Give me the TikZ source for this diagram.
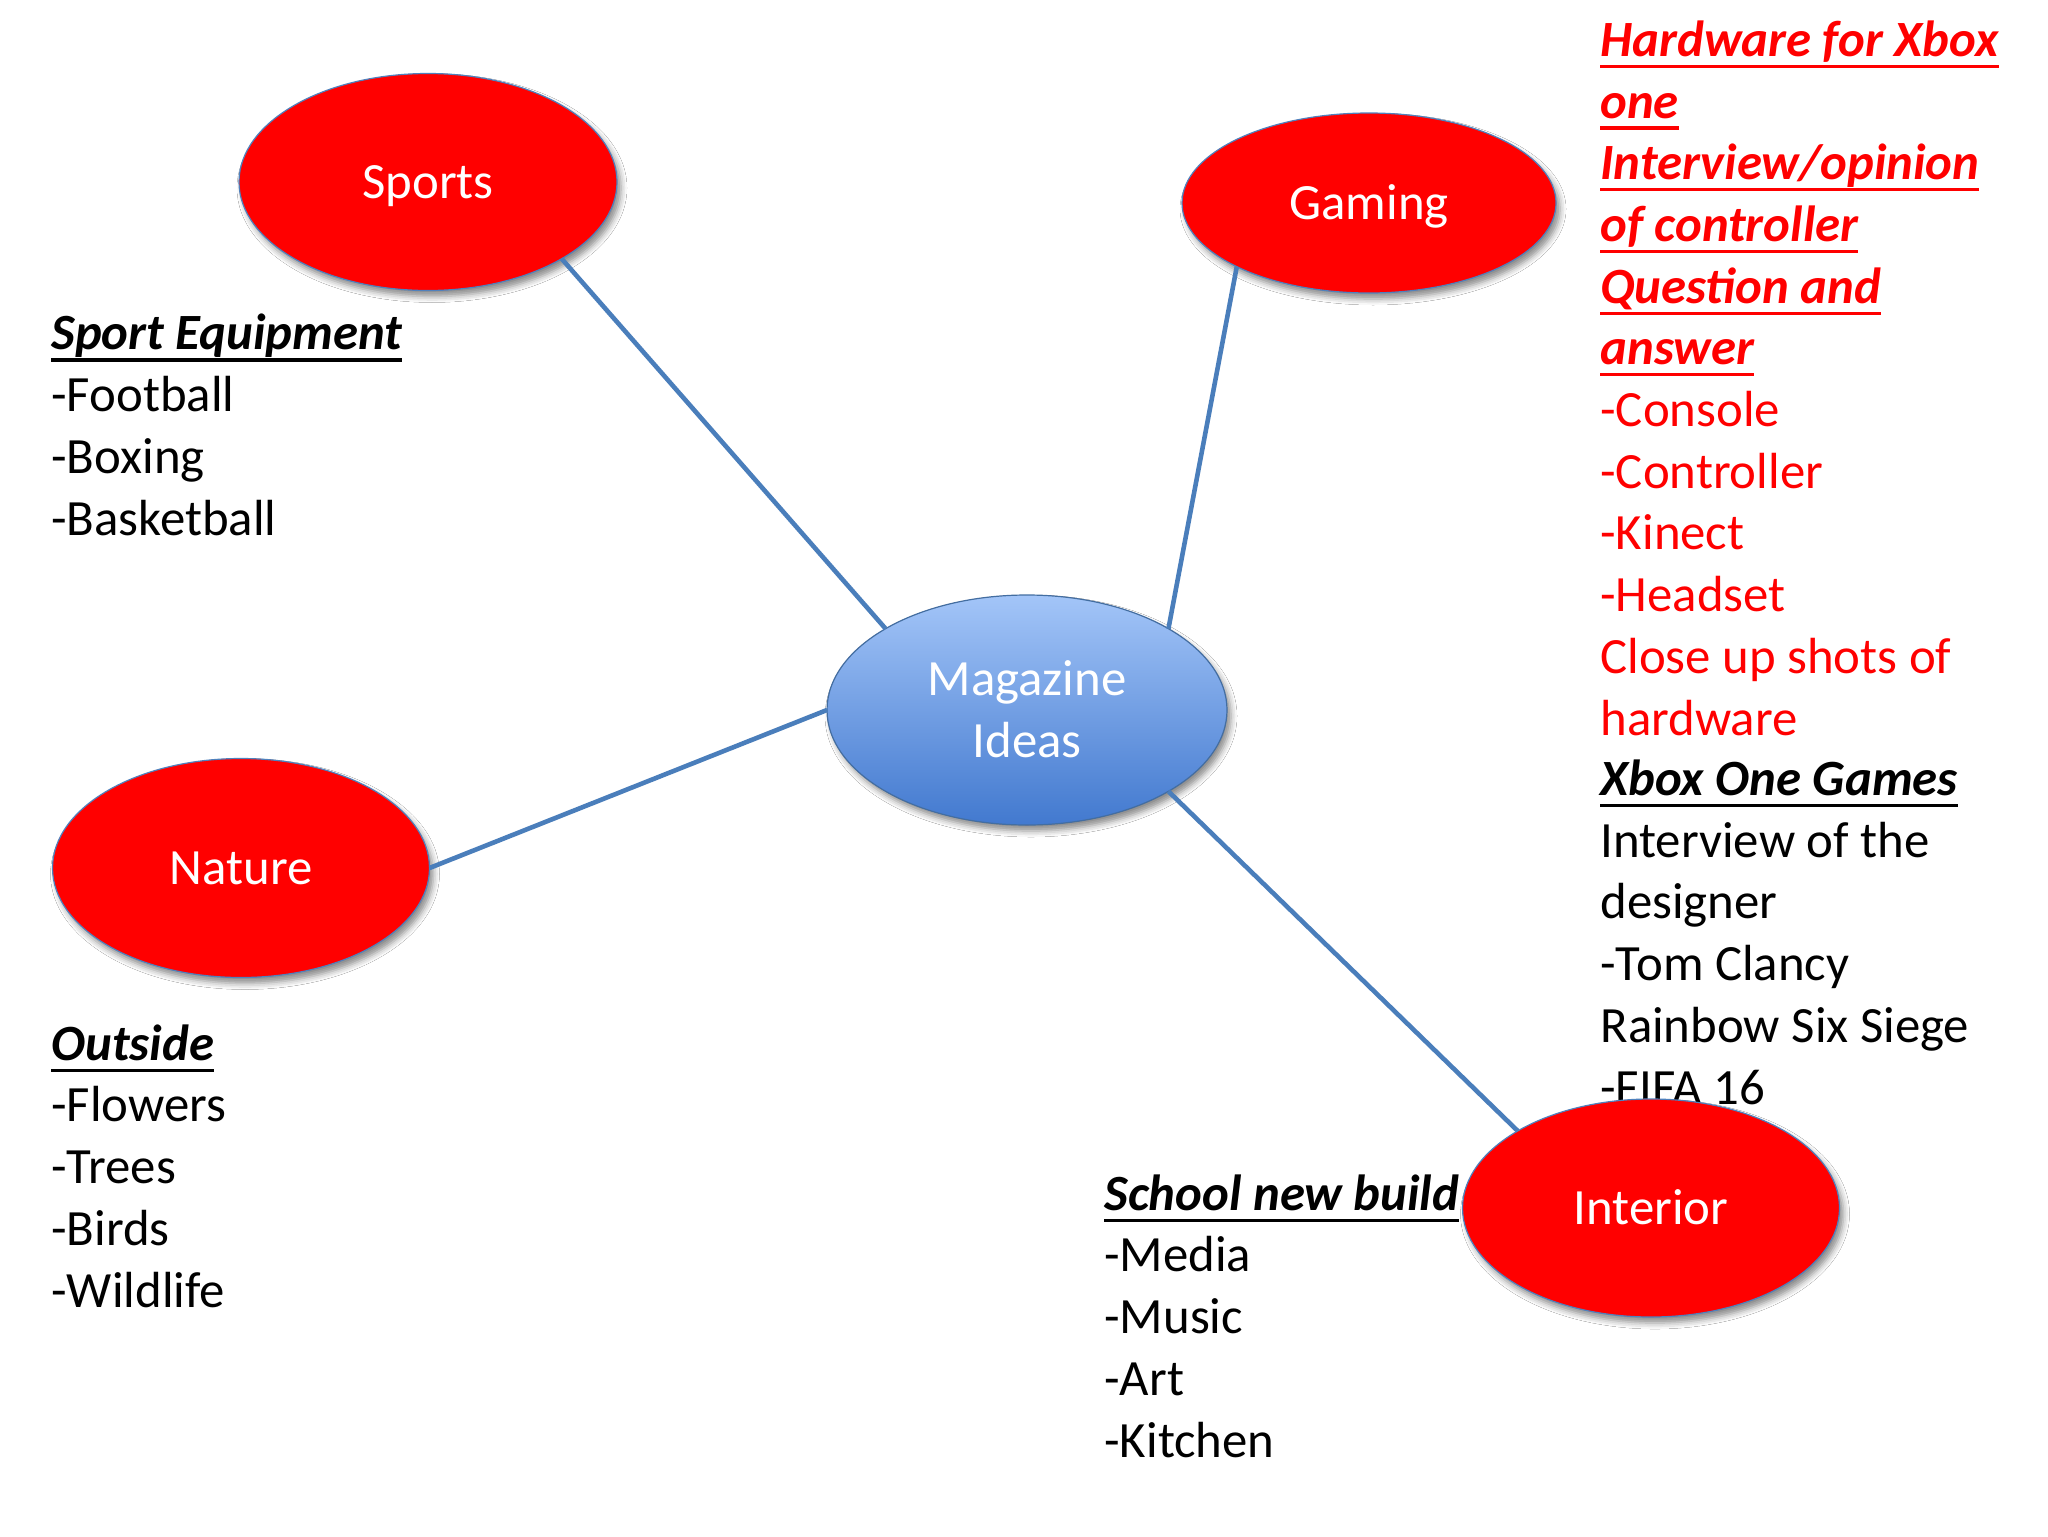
\documentclass[tikz,border=0pt]{standalone}
\usepackage{fontspec}
\setmainfont{Carlito}
\usetikzlibrary{shapes.geometric,shadows.blur}
\definecolor{linkblue}{HTML}{4A7EBB}
\definecolor{rimblue}{HTML}{4F81BD}
\definecolor{hubtop}{HTML}{A3C5F8}
\definecolor{hubbot}{HTML}{4279CF}
\definecolor{topicred}{HTML}{FF0000}
\newsavebox{\headbox}
\newcommand{\bigtext}{\fontsize{25.4}{30.85}\selectfont}
\newcommand{\head}[1]{\sbox{\headbox}{\bfseries\itshape #1}%
	\rlap{\rule[-5.8pt]{\wd\headbox}{1.6pt}}\usebox{\headbox}}
\tikzset{
	topic/.style={
			ellipse, draw=rimblue, line width=0.6pt, fill=topicred,
			text=white, inner sep=0pt, outer sep=0pt, font=\bigtext,
			text height=16pt, text depth=0pt,
			blur shadow={shadow xshift=2pt, shadow yshift=-3pt,
					shadow blur radius=3pt, shadow opacity=45}
		},
	hub/.style={topic, draw=rimblue!85!black, top color=hubtop, bottom color=hubbot,
			align=center, text height=47pt},
	link/.style={draw=linkblue, line width=2.3pt},
	% base anchor sits on the last line
	notes/.style={anchor=base west, align=left, inner sep=0pt, font=\bigtext}
}

\begin{document}
\begin{tikzpicture}[x=0.5pt, y=-0.5pt]
	\useasboundingbox[fill=white] (0,0) rectangle (2048,1536);

	% lists of ideas
	\node[notes] (sportlist) at (51,535) {\head{Sport Equipment}\\-Football\\-Boxing\\-Basketball};
	\node[notes] (outsidelist) at (51,1307) {\head{Outside}\\-Flowers\\-Trees\\-Birds\\-Wildlife};
	\node[notes] (schoollist) at (1104,1457) {\head{School new build}\\-Media\\-Music\\-Art\\-Kitchen};
	\node[notes, text=topicred] (xboxlist) at (1600,735) {\head{Hardware for Xbox}\\\head{one}\\
			\head{Interview/opinion}\\\head{of controller}\\\head{Question and}\\\head{answer}\\
			-Console\\-Controller\\-Kinect\\-Headset\\Close up shots of\\hardware};
	\node[notes] (gamelist) at (1600,1104) {\head{Xbox One Games}\\Interview of the\\designer\\
			-Tom Clancy\\Rainbow Six Siege\\-FIFA 16};

	% topics
	\node[topic, minimum width=189pt, minimum height=108.5pt] (sports) at (428,182) {Sports};
	\node[topic, minimum width=187pt, minimum height=90pt] (gaming) at (1369,203) {Gaming};
	\node[topic, minimum width=188.5pt, minimum height=109.5pt] (nature) at (241,868) {Nature};
	\node[topic, minimum width=188.5pt, minimum height=109pt] (interior) at (1651,1208) {Interior};
	\node[hub, minimum width=200pt, minimum height=115pt] (magazine) at (1027,710) {Magazine\\Ideas};

	\draw[link] (sports.south east) -- (magazine.north west);
	\draw[link] (gaming.south west) -- (magazine.north east);
	\draw[link] (nature.east) -- (magazine.west);
	\draw[link] (magazine.south east) -- (interior.north west);
\end{tikzpicture}
\end{document}
